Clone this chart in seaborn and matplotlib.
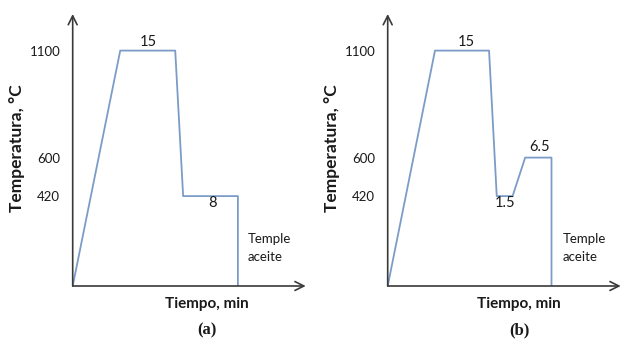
import pandas as pd
import matplotlib
matplotlib.use("Agg")
import matplotlib.pyplot as plt
import seaborn as sns

# schematic time axis (arbitrary units, 0-100 = arrow length), temperature in C
time_a = [0, 20.4, 44.0, 47.4, 70.9, 70.9]
temp_a = [0, 1100, 1100, 420, 420, 0]
time_b = [0, 20.3, 43.5, 46.8, 53.6, 59.0, 70.3, 70.3]
temp_b = [0, 1100, 1100, 420, 420, 600, 600, 0]
yticks = [420, 600, 1100]
labels_a = [(32.5, 1139, "15"), (59.8, 389, "8")]
labels_b = [(33.6, 1139, "15"), (50.3, 389, "1.5"), (65.0, 651, "6.5")]

sns.set_style("white")
plt.rcParams['font.family'] = ['Lato', 'DejaVu Sans']

line_col = "#7b9cc8"
ax_col = "#3a3a3a"
txt_col = "#1a1a1a"

fig = plt.figure(figsize=(6.22, 3.40), dpi=100)


def panel(left, time, temp, labels, tag, ylab_x, xlab_x):
    ax = fig.add_axes([left / 622, 54 / 340, 233 / 622, 272 / 340])
    df = pd.DataFrame({"t": time, "T": temp})
    sns.lineplot(data=df, x="t", y="T", sort=False, estimator=None,
                 color=line_col, lw=1.3, ax=ax)
    ax.set_xlim(0, 100)
    ax.set_ylim(0, 1271)
    for s in ax.spines.values():
        s.set_visible(False)
    # axes with arrow heads
    ax.annotate("", xy=(1, 0), xytext=(0, 0), xycoords="axes fraction",
                arrowprops=dict(arrowstyle="->", color=ax_col, lw=1.2,
                                shrinkA=0, shrinkB=0, mutation_scale=16))
    ax.annotate("", xy=(0, 1), xytext=(0, 0), xycoords="axes fraction",
                arrowprops=dict(arrowstyle="->", color=ax_col, lw=1.2,
                                shrinkA=0, shrinkB=0, mutation_scale=16))
    ax.set_xticks([])
    ax.set_yticks(yticks)
    ax.set_yticklabels([str(v) for v in yticks])
    ax.tick_params(axis="y", direction="inout", length=6, width=1,
                   color=ax_col, pad=6, labelsize=9.5, labelcolor=txt_col)
    ax.set_xlabel("")
    ax.set_ylabel("")
    for x, y, s in labels:
        ax.text(x, y, s, ha="center", va="center", fontsize=10.5, color=txt_col)
    ax.text(75, 176, "Temple\naceite", ha="left", va="center", fontsize=9.5,
            color=txt_col, linespacing=1.6)
    fig.text(ylab_x / 622, 1 - 148 / 340, "Temperatura, °C", rotation=90,
             ha="center", va="center", fontsize=12.5, fontweight="bold",
             color=txt_col)
    fig.text(xlab_x / 622, 1 - 304 / 340, "Tiempo, min", ha="center",
             va="center", fontsize=11, fontweight="bold", color=txt_col)
    fig.text(xlab_x / 622, 1 - 330 / 340, tag, ha="center", va="center",
             fontsize=12, fontweight="bold", family="Liberation Serif",
             color=txt_col)
    return ax


panel(72.7, time_a, temp_a, labels_a, "(a)", 17, 206.7)
panel(387.7, time_b, temp_b, labels_b, "(b)", 331.7, 519.3)

fig.savefig("out.png", dpi=100)
